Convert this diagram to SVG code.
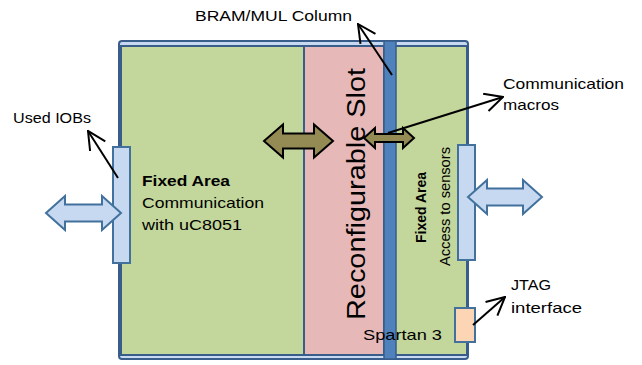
<svg xmlns="http://www.w3.org/2000/svg" width="642" height="365" viewBox="0 0 642 365">
<style>
.t{font-family:"Liberation Sans",Arial,sans-serif;font-size:15px;fill:#000}
.b{font-weight:bold}
.blue{fill:#c6d9f1;stroke:#41719c;stroke-width:2}
.olive{fill:#948a54;stroke:#000;stroke-width:2;stroke-linejoin:miter}
.ln{stroke:#000;stroke-width:2;fill:none}
</style>
<defs>
<marker id="ah" viewBox="0 0 20 20" refX="19" refY="10" markerWidth="20" markerHeight="20" markerUnits="userSpaceOnUse" orient="auto">
<path d="M1,1 L19,10 L1,19" fill="none" stroke="#000" stroke-width="2"/>
</marker>
</defs>
<rect width="642" height="365" fill="#fff"/>
<g id="board">
<rect x="119" y="41" width="349" height="318" rx="3" fill="#c6d9f1" stroke="#385d8a" stroke-width="2"/>
<rect x="121" y="46" width="346" height="309" fill="#c3d69b" stroke="#385d8a" stroke-width="2"/>
</g>
<g id="slot">
<rect x="304" y="46" width="80" height="309" fill="#e6b9b8" stroke="#385d8a" stroke-width="2"/>
<text class="t" transform="translate(365,194) rotate(-90)" text-anchor="middle" font-size="26" textLength="252" lengthAdjust="spacingAndGlyphs" style="font-size:26px">Reconfigurable Slot</text>
</g>
<g id="bram">
<rect x="384" y="41" width="12" height="318" fill="#4f81bd" stroke="#385d8a" stroke-width="1.5"/>
</g>
<g id="left-area">
<text class="t b" x="142" y="186" textLength="88" lengthAdjust="spacingAndGlyphs">Fixed Area</text>
<text class="t" x="142" y="208" textLength="122" lengthAdjust="spacingAndGlyphs">Communication</text>
<text class="t" x="142" y="230" textLength="100" lengthAdjust="spacingAndGlyphs">with uC8051</text>
</g>
<g id="right-area">
<text class="t b" transform="translate(426,243) rotate(-90)" textLength="71" lengthAdjust="spacingAndGlyphs">Fixed Area</text>
<text class="t" transform="translate(450,266) rotate(-90)" textLength="119" lengthAdjust="spacingAndGlyphs">Access to sensors</text>
</g>
<g id="left-iob">
<rect class="blue" x="113" y="147" width="17" height="116"/>
<polygon class="blue" points="46,213 65,196 65,204.5 102,204.5 102,196 121,213 102,230 102,221.5 65,221.5 65,230"/>
</g>
<g id="right-iob">
<rect class="blue" x="458" y="145" width="17" height="115"/>
<polygon class="blue" points="468,197 487,180 487,188.5 523,188.5 523,180 542,197 523,214 523,205.5 487,205.5 487,214"/>
</g>
<g id="jtag">
<rect x="455" y="308" width="20" height="34" fill="#fcd5b5" stroke="#41719c" stroke-width="2"/>
</g>
<g id="olive-arrows">
<polygon class="olive" points="264,141 283,124.5 283,133.5 314,133.5 314,124.5 333,141 314,157.5 314,148.5 283,148.5 283,157.5"/>
<polygon class="olive" points="364,138 375,128 375,134 403,134 403,128 414,138 403,148 403,142 375,142 375,148"/>
</g>
<g id="labels">
<text class="t" x="195" y="21" textLength="157" lengthAdjust="spacingAndGlyphs">BRAM/MUL Column</text>
<text class="t" x="13" y="123" textLength="78" lengthAdjust="spacingAndGlyphs">Used IOBs</text>
<text class="t" x="503" y="89" textLength="121" lengthAdjust="spacingAndGlyphs">Communication</text>
<text class="t" x="503" y="110" textLength="56" lengthAdjust="spacingAndGlyphs">macros</text>
<text class="t" x="511" y="290" textLength="40" lengthAdjust="spacingAndGlyphs">JTAG</text>
<text class="t" x="511" y="313" textLength="71" lengthAdjust="spacingAndGlyphs">interface</text>
<text class="t" x="363" y="340" textLength="79" lengthAdjust="spacingAndGlyphs">Spartan 3</text>
</g>
<g id="connectors">
<line class="ln" x1="118" y1="178" x2="88" y2="131" marker-end="url(#ah)"/>
<line class="ln" x1="392" y1="75" x2="358" y2="24" marker-end="url(#ah)"/>
<line class="ln" x1="388" y1="133" x2="503" y2="97" marker-end="url(#ah)"/>
<line class="ln" x1="473" y1="325" x2="505" y2="297" marker-end="url(#ah)"/>
</g>
</svg>
